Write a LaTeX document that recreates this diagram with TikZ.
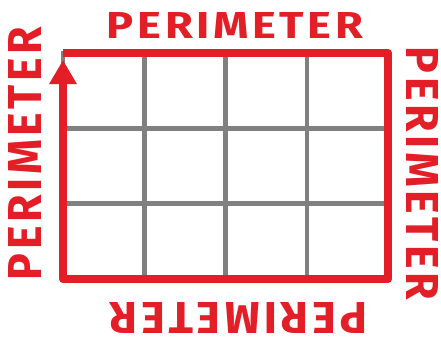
\documentclass[tikz,border=0pt]{standalone}
\usepackage{fontspec}
\setmainfont{Fira Sans}
\usepackage{graphicx}
\usetikzlibrary{arrows.meta,calc}
\definecolor{perired}{RGB}{228,30,38}
\definecolor{gridgray}{RGB}{128,128,128}
\newcommand{\perimword}{\bfseries P\kern.08em E\kern.08em R\kern.08em I\kern.08em M\kern.08em E\kern.08em T\kern.08em E\kern.08em R}
\newcommand{\perimbox}[2]{\resizebox{#1}{#2}{\fontsize{40}{40}\selectfont\perimword}}
\tikzset{
  gridline/.style={draw=gridgray,line width=4.5pt},
  redline/.style={draw=perired,line width=8pt,line join=round},
  label/.style={inner sep=0pt,text=perired}
}
\begin{document}
\begin{tikzpicture}[x=1pt,y=-1pt]
\useasboundingbox (0,0) rectangle (441,345);
\fill[white] (0,0) rectangle (441,345);
\coordinate (tl) at (63,53);
\coordinate (tr) at (388,53);
\coordinate (br) at (388,279);
\coordinate (bl) at (63,279);
\coordinate (tip) at (63,60);
% grey grid
\draw[gridline] (tl) rectangle (br);
\foreach \i in {1,2,3}
  \draw[gridline] ($(tl)!\i/4!(tr)$) -- ($(bl)!\i/4!(br)$);
\foreach \j in {1,2}
  \draw[gridline] ($(tl)!\j/3!(bl)$) -- ($(tr)!\j/3!(br)$);
% red perimeter
\draw[redline,-{Triangle[width=26pt,length=24pt]}] (tl) -- (tr) -- (br) -- (bl) -- (tip);
% labels
\node[label] (ttop) at (235,26) {\perimbox{256pt}{26pt}};
\node[label,rotate=90] (tleft) at (25,153.5) {\perimbox{253pt}{33pt}};
\node[label,rotate=-90] (tright) at (422.5,173.5) {\perimbox{253pt}{32pt}};
\node[label,rotate=180] (tbottom) at (238.5,317.5) {\perimbox{257pt}{31pt}};
\end{tikzpicture}
\end{document}
